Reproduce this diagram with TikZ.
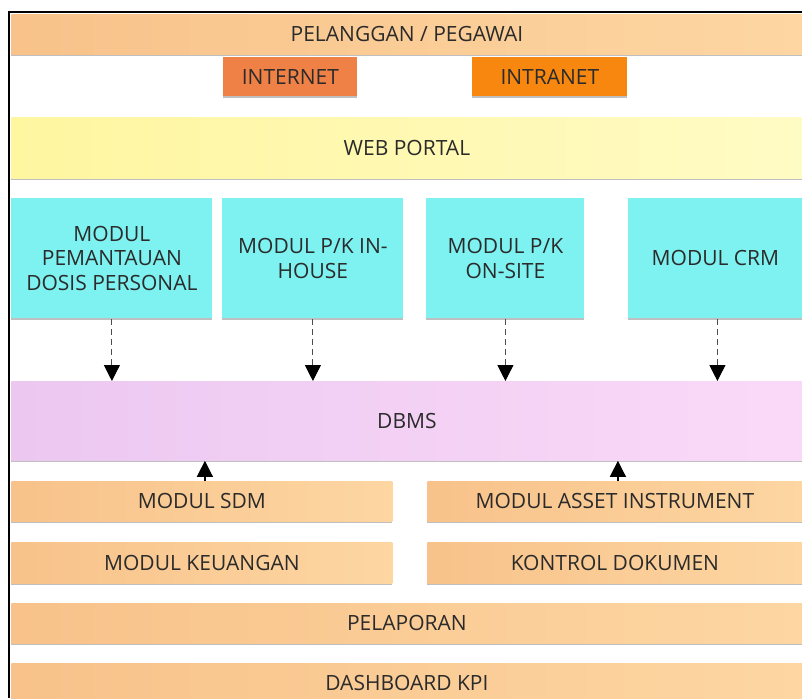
\documentclass[tikz,border=0pt]{standalone}
\usepackage{fontspec}
\setmainfont{Open Sans}
\usetikzlibrary{arrows.meta,shadows}

\definecolor{peachL}{HTML}{F8C28A}
\definecolor{peachR}{HTML}{FDD6A2}
\definecolor{webL}{HTML}{FFF6A0}
\definecolor{webR}{HTML}{FFFBC4}
\definecolor{modcyan}{HTML}{7EF1F1}
\definecolor{dbmsL}{HTML}{ECC8F1}
\definecolor{dbmsR}{HTML}{FAD9F8}
\definecolor{inetcol}{HTML}{EF8046}
\definecolor{intracol}{HTML}{F7870F}
\definecolor{txtcol}{HTML}{2B2B2B}

\tikzset{
    box/.style 2 args={anchor=north west, inner sep=0pt, text=txtcol,
        minimum width=#1*0.5pt, minimum height=#2*0.5pt,
        font=\fontsize{10.5}{12.3}\selectfont, align=center,
        drop shadow={shadow xshift=0pt, shadow yshift=-0.7pt, opacity=0.25, fill=black}},
    peach/.style={left color=peachL, right color=peachR},
    modbox/.style={fill=modcyan},
    downline/.style={densely dashed, line width=0.5pt, black!70,
        -{Triangle[width=8pt,length=8pt,black]}},
    upline/.style={line width=0.6pt, -{Triangle[width=8pt,length=8pt]}}
}

\begin{document}
\begin{tikzpicture}[x=0.5pt, y=-0.5pt]
    \useasboundingbox (0,0) rectangle (802,698);

    % top layer
    \node[box={791}{40}, peach] (pelanggan) at (11,14) {PELANGGAN / PEGAWAI};
    \node[box={134}{39}, fill=inetcol] (internet) at (223,57) {INTERNET};
    \node[box={155}{39}, fill=intracol] (intranet) at (472,57) {INTRANET};
    \node[box={791}{61}, left color=webL, right color=webR] (web) at (11,117) {WEB PORTAL};

    % modules
    \node[box={201}{120}, modbox] (mpds) at (11,198) {MODUL\\PEMANTAUAN\\DOSIS PERSONAL};
    \node[box={181}{120}, modbox] (minhouse) at (222,198) {MODUL P/K IN-\\HOUSE};
    \node[box={158}{120}, modbox] (monsite) at (426,198) {MODUL P/K\\ON-SITE};
    \node[box={174}{120}, modbox] (mcrm) at (628,198) {MODUL CRM};

    \node[box={791}{79}, left color=dbmsL, right color=dbmsR] (dbms) at (11,381) {DBMS};

    % lower modules
    \node[box={381}{40}, peach] (sdm) at (11,481) {MODUL SDM};
    \node[box={375}{40}, peach] (asset) at (427,481) {MODUL ASSET INSTRUMENT};
    \node[box={381}{41}, peach] (keuangan) at (11,542) {MODUL KEUANGAN};
    \node[box={375}{41}, peach] (kontrol) at (427,542) {KONTROL DOKUMEN};
    \node[box={791}{40}, peach] (pelaporan) at (11,603) {PELAPORAN};
    \node[box={791}{40}, peach] (dashboard) at (11,663) {DASHBOARD KPI};

    % arrows
    \draw[downline] (mpds.south) -- (mpds.south |- dbms.north);
    \draw[downline] (minhouse.south) -- (minhouse.south |- dbms.north);
    \draw[downline] (monsite.south) -- (monsite.south |- dbms.north);
    \draw[downline] ([xshift=1pt]mcrm.south) -- ([xshift=1pt]mcrm.south |- dbms.north);

    \draw[upline] ([xshift=1.5pt]sdm.north) -- ([xshift=1.5pt]sdm.north |- dbms.south);
    \draw[upline] ([xshift=1.5pt]asset.north) -- ([xshift=1.5pt]asset.north |- dbms.south);

    % frame
    \draw[line width=1pt] (9,698) -- (9,12) -- (802,12);
\end{tikzpicture}
\end{document}
